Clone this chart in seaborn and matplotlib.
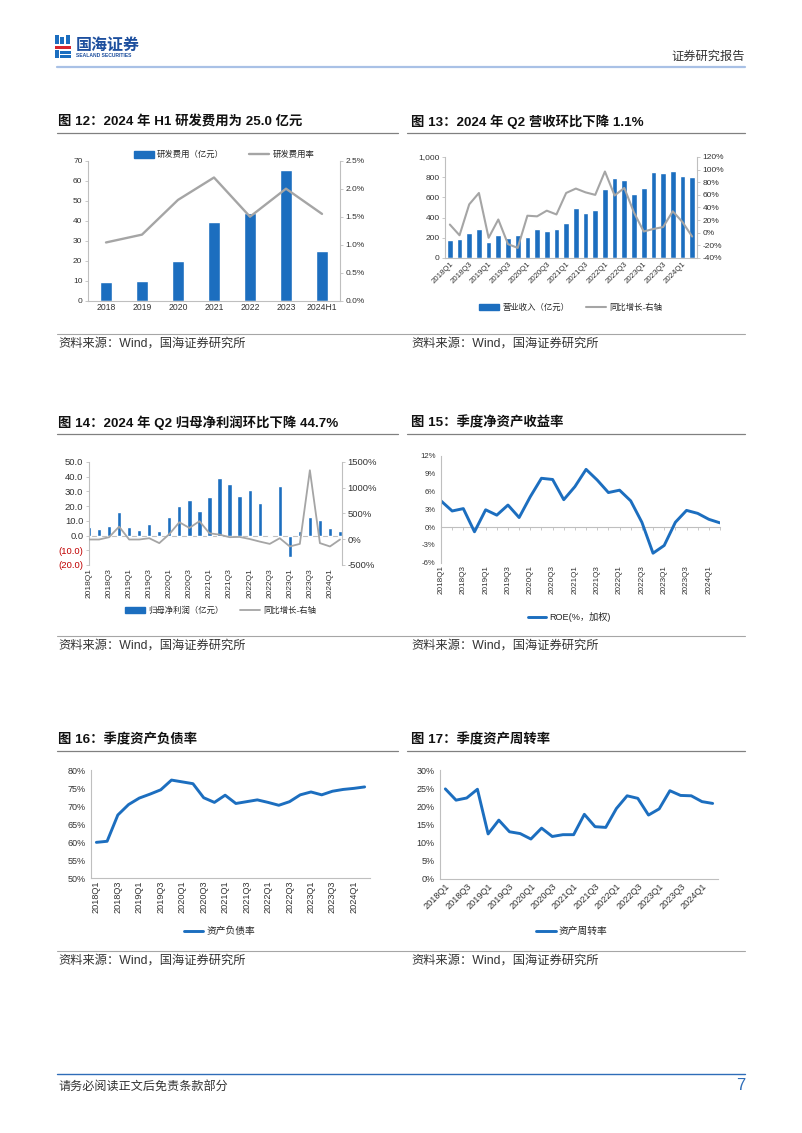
import numpy as np
import pandas as pd
import matplotlib
matplotlib.use("Agg")
import matplotlib.pyplot as plt
import seaborn as sns
from matplotlib.lines import Line2D
from matplotlib.patches import Patch, Rectangle
from matplotlib.ticker import FuncFormatter

sns.set_style("white")
plt.rcParams['font.family'] = ['Liberation Sans', 'Noto Sans CJK SC', 'DejaVu Sans']
plt.rcParams['axes.unicode_minus'] = False

W, H = 802, 1133
BLUE = '#1C6EBF'
GREY = '#A5A5A5'
SPINE = '#BFBFBF'
TXT = '#333333'

# ---- data ----
rd_years = ['2018', '2019', '2020', '2021', '2022', '2023', '2024H1']
rd_expense = [9.5, 10.0, 19.8, 39.2, 43.8, 65.3, 25.0]
rd_rate = [1.04, 1.18, 1.80, 2.20, 1.50, 2.00, 1.55]

quarters = [f"{y}Q{q}" for y in range(2018, 2025) for q in range(1, 5)][:26]

revenue = [175, 185, 245, 290, 160, 225, 195, 225, 205, 285, 270, 290, 345,
           495, 445, 475, 685, 790, 770, 635, 695, 850, 845, 860, 810, 800]
revenue_yoy = [13, -4, 45, 63, -8, 21, -18, -24, 27, 26, 35, 29, 63,
               70, 64, 60, 97, 59, 71, 32, 2, 6, 9, 34, 17, -6]

net_profit = [6.1, 4.5, 6.6, 15.9, 5.9, 4.1, 8.0, 3.4, 12.3, 19.8, 24.3, 16.4, 26.4,
              39.3, 35.2, 26.6, 30.7, 22.3, 0.5, 33.4, -14.8, 3.2, 12.3, 10.5, 5.2, 3.0]
net_yoy = [-5, -5, 40, 245, -5, -5, 20, -75, 100, 330, 220, 350, 115,
           90, 40, 45, 5, -45, -90, 20, -140, -90, 1340, -75, -140, -5]

roe = [4.4, 2.7, 3.1, -0.8, 2.9, 2.0, 3.7, 1.6, 5.1, 8.2, 8.0, 4.6, 6.8,
       9.7, 7.9, 5.8, 6.2, 4.4, 0.8, -4.4, -3.1, 0.8, 2.8, 2.3, 1.3, 0.7]
debt_ratio = [59.9, 60.2, 67.5, 70.4, 72.2, 73.3, 74.5, 77.2, 76.7, 76.2, 72.3, 71.0, 73.0,
              70.7, 71.2, 71.7, 71.0, 70.2, 71.2, 73.1, 73.9, 73.1, 74.1, 74.6, 74.9, 75.3]
turnover = [24.8, 21.7, 22.3, 24.7, 12.4, 16.2, 13.0, 12.5, 11.0, 14.0, 11.7, 12.2, 12.2,
            17.8, 14.4, 14.2, 19.4, 22.9, 22.2, 17.6, 19.3, 24.3, 23.0, 22.9, 21.3, 20.8]

qdf = pd.DataFrame({'idx': np.arange(len(quarters)), 'quarter': quarters,
                    'revenue': revenue, 'revenue_yoy': revenue_yoy,
                    'net_profit': net_profit, 'net_yoy': net_yoy,
                    'roe': roe, 'debt': debt_ratio, 'turnover': turnover})
rdf = pd.DataFrame({'idx': np.arange(len(rd_years)), 'year': rd_years,
                    'expense': rd_expense, 'rate': rd_rate})

fig = plt.figure(figsize=(W / 100, H / 100), dpi=100)


def fx(px):
    return px / W


def fy(py):
    return 1 - py / H


def add_axes(x0, y0, x1, y1):
    return fig.add_axes([fx(x0), fy(y1), (x1 - x0) / W, (y1 - y0) / H])


def hline(y, x0, x1, color, lw):
    fig.add_artist(Line2D([fx(x0), fx(x1)], [fy(y), fy(y)], transform=fig.transFigure,
                          color=color, lw=lw))


def frect(x0, y0, w, h, color):
    fig.add_artist(Rectangle((fx(x0), fy(y0 + h)), w / W, h / H, transform=fig.transFigure,
                             color=color, lw=0))


def style(ax, fs=6, xfs=6):
    for s in ['top', 'right']:
        ax.spines[s].set_visible(False)
    for s in ['left', 'bottom']:
        ax.spines[s].set_color(SPINE)
        ax.spines[s].set_linewidth(0.8)
    ax.tick_params(axis='y', length=2.5, width=0.6, color=SPINE, labelsize=fs,
                   labelcolor=TXT, pad=1.5)
    ax.tick_params(axis='x', length=0, labelsize=xfs, labelcolor=TXT, pad=2)
    ax.set_xlabel('')
    ax.set_ylabel('')
    ax.grid(False)


def style_right(ax2, fs=6):
    for s in ['top', 'left', 'bottom']:
        ax2.spines[s].set_visible(False)
    ax2.spines['right'].set_color(SPINE)
    ax2.spines['right'].set_linewidth(0.8)
    ax2.tick_params(axis='y', length=2.5, width=0.6, color=SPINE, labelsize=fs,
                    labelcolor=TXT, pad=1.5)
    ax2.set_xlabel('')
    ax2.set_ylabel('')
    ax2.grid(False)


pct0 = FuncFormatter(lambda v, p: f"{v:.0f}%")

# ---- header ----
frect(55, 35, 3.5, 9, BLUE)
frect(60, 37, 3.5, 7, BLUE)
frect(66, 35, 4, 9, BLUE)
frect(55, 46, 16, 3, '#D7262E')
frect(55, 50, 3.5, 8, BLUE)
frect(60, 51, 11, 2.5, BLUE)
frect(60, 55, 11, 3, BLUE)
fig.text(fx(76), fy(45), "国海证券", fontsize=11.5, color='#1D4F9E', weight='bold', va='center')
fig.text(fx(76.5), fy(55.5), "SEALAND SECURITIES", fontsize=3.6, color='#1D4F9E', weight='bold',
         va='center')
fig.text(fx(745), fy(57), "证券研究报告", fontsize=8.8, color=TXT, ha='right', va='center')
hline(67, 57, 745, '#A9C1E6', 1.6)

# ---- titles / sources ----
titles = [(58, 122, "图 12：2024 年 H1 研发费用为 25.0 亿元"),
          (411, 122, "图 13：2024 年 Q2 营收环比下降 1.1%"),
          (58, 423, "图 14：2024 年 Q2 归母净利润环比下降 44.7%"),
          (411, 423, "图 15：季度净资产收益率"),
          (58, 740, "图 16：季度资产负债率"),
          (411, 740, "图 17：季度资产周转率")]
for x, y, t in titles:
    fig.text(fx(x), fy(y), t, fontsize=9.6, weight='bold', color='#111111', va='center')
for y in [133, 434, 751]:
    hline(y, 57, 398, '#808080', 0.9)
    hline(y, 407, 745, '#808080', 0.9)
for y in [334, 636, 951]:
    hline(y, 57, 745, '#A6A6A6', 0.8)
    fig.text(fx(58), fy(y + 10), "资料来源：Wind，国海证券研究所", fontsize=8.8, color=TXT, va='center')
    fig.text(fx(411), fy(y + 10), "资料来源：Wind，国海证券研究所", fontsize=8.8, color=TXT, va='center')

hline(1074, 57, 745, '#2F6DB8', 1.0)
fig.text(fx(58), fy(1087), "请务必阅读正文后免责条款部分", fontsize=8.7, color=TXT, va='center')
fig.text(fx(745), fy(1086), "7", fontsize=12, color='#2F6DB8', ha='right', va='center')

# ---- chart 12 ----
ax = add_axes(88, 160.7, 340, 300.7)
sns.barplot(data=rdf, x='idx', y='expense', native_scale=True, color=BLUE, width=0.32,
            errorbar=None, ax=ax, saturation=1)
ax2 = ax.twinx()
sns.lineplot(data=rdf, x='idx', y='rate', color=GREY, lw=1.7, ax=ax2, legend=False)
ax.set_xlim(-0.5, 6.5)
ax.set_ylim(0, 70)
ax.set_yticks(range(0, 71, 10))
ax2.set_ylim(0, 2.5)
ax2.set_yticks(np.arange(0, 2.51, 0.5))
ax2.yaxis.set_major_formatter(FuncFormatter(lambda v, p: f"{v:.1f}%"))
ax.set_xticks(rdf['idx'])
ax.set_xticklabels(rd_years)
style(ax, 6, 6.2)
style_right(ax2, 6)
ax.legend(handles=[Patch(color=BLUE, label='研发费用（亿元）'),
                   Line2D([], [], color=GREY, lw=1.7, label='研发费用率')],
          loc='center', bbox_to_anchor=(0.54, 1.04), ncol=2, frameon=False, fontsize=6,
          handlelength=2.4, handleheight=0.9, columnspacing=3.0, handletextpad=0.4)

# ---- chart 13 ----
ax = add_axes(445, 157, 697, 258)
sns.barplot(data=qdf, x='idx', y='revenue', native_scale=True, color=BLUE, width=0.58,
            errorbar=None, ax=ax, saturation=1)
ax2 = ax.twinx()
sns.lineplot(data=qdf, x='idx', y='revenue_yoy', color=GREY, lw=1.5, ax=ax2, legend=False)
ax.set_xlim(-0.5, 25.5)
ax.set_ylim(0, 1000)
ax.set_yticks(range(0, 1001, 200))
ax.yaxis.set_major_formatter(FuncFormatter(lambda v, p: f"{v:,.0f}"))
ax2.set_ylim(-40, 120)
ax2.set_yticks(range(-40, 121, 20))
ax2.yaxis.set_major_formatter(pct0)
ax.set_xticks(qdf['idx'][::2])
ax.set_xticklabels(quarters[::2], rotation=45, ha='right', rotation_mode='anchor')
style(ax, 6, 5.6)
style_right(ax2, 6)
ax.legend(handles=[Patch(color=BLUE, label='营业收入（亿元）'),
                   Line2D([], [], color=GREY, lw=1.5, label='同比增长-右轴')],
          loc='center', bbox_to_anchor=(0.5, -0.49), ncol=2, frameon=False, fontsize=6,
          handlelength=2.4, handleheight=0.7, columnspacing=2.0, handletextpad=0.4)

# ---- chart 14 ----
ax = add_axes(89, 462, 342, 565)
sns.barplot(data=qdf, x='idx', y='net_profit', native_scale=True, color=BLUE, width=0.42,
            errorbar=None, ax=ax, saturation=1)
ax2 = ax.twinx()
sns.lineplot(data=qdf, x='idx', y='net_yoy', color=GREY, lw=1.3, ax=ax2, legend=False)
ax.set_xlim(0, 25.2)
ax.set_ylim(-20, 50)
yv = list(range(-20, 51, 10))
ax.set_yticks(yv)
ax.set_yticklabels([f"{v:.1f}" if v >= 0 else f"({-v:.1f})" for v in yv])
ax2.set_ylim(-500, 1500)
ax2.set_yticks(range(-500, 1501, 500))
ax2.yaxis.set_major_formatter(pct0)
ax.set_xticks(qdf['idx'][::2])
ax.set_xticklabels(quarters[::2], rotation=90)
style(ax, 6.8, 6)
style_right(ax2, 6.8)
ax.spines['bottom'].set_visible(False)
for lbl, v in zip(ax.get_yticklabels(), yv):
    if v < 0:
        lbl.set_color('#C00000')
sec = ax.secondary_xaxis(20 / 70)
sec.set_xticks([])
sec.spines['bottom'].set_color(SPINE)
sec.spines['bottom'].set_linewidth(0.8)
ax.legend(handles=[Patch(color=BLUE, label='归母净利润（亿元）'),
                   Line2D([], [], color=GREY, lw=1.3, label='同比增长-右轴')],
          loc='center', bbox_to_anchor=(0.52, -0.44), ncol=2, frameon=False, fontsize=6,
          handlelength=2.4, handleheight=0.7, columnspacing=2.0, handletextpad=0.4)


def line_chart(box, col, ylim, step, rot, xlim, fs, xfs, zero_axis=False):
    ax = add_axes(*box)
    sns.lineplot(data=qdf, x='idx', y=col, color=BLUE, lw=2.1, ax=ax, legend=False)
    ax.set_xlim(*xlim)
    ax.set_ylim(*ylim)
    ax.set_yticks(np.arange(ylim[0], ylim[1] + 0.1, step))
    ax.yaxis.set_major_formatter(pct0)
    ax.set_xticks(qdf['idx'][::2])
    if rot == 90:
        ax.set_xticklabels(quarters[::2], rotation=90)
    else:
        ax.set_xticklabels(quarters[::2], rotation=45, ha='right', rotation_mode='anchor')
    style(ax, fs, xfs)
    if zero_axis:
        ax.spines['bottom'].set_visible(False)
        sec = ax.secondary_xaxis((0 - ylim[0]) / (ylim[1] - ylim[0]))
        sec.set_xticks(qdf['idx'])
        sec.set_xticklabels([])
        sec.tick_params(length=2.5, width=0.6, color=SPINE)
        sec.spines['bottom'].set_color(SPINE)
        sec.spines['bottom'].set_linewidth(0.8)
    else:
        ax.set_xticks(qdf['idx'], minor=True)
        ax.tick_params(axis='x', which='minor', length=2.5, width=0.6, color=SPINE)
    return ax


ax = line_chart((441, 455.7, 720, 562.7), 'roe', (-6, 12), 3, 90, (0, 25), 5.6, 5.9,
                zero_axis=True)
ax.legend(handles=[Line2D([], [], color=BLUE, lw=2.1, label='ROE(%，加权)')],
          loc='center', bbox_to_anchor=(0.46, -0.51), frameon=False, fontsize=6.6,
          handlelength=2.0, handletextpad=0.3)

ax = line_chart((91, 770, 370, 878), 'debt', (50, 80), 5, 90, (-0.5, 25.5), 6.5, 6.6)
ax.legend(handles=[Line2D([], [], color=BLUE, lw=2.1, label='资产负债率')],
          loc='center', bbox_to_anchor=(0.46, -0.49), frameon=False, fontsize=7,
          handlelength=2.0, handletextpad=0.3)

ax = line_chart((440, 770, 718, 879), 'turnover', (0, 30), 5, 45, (-0.5, 25.5), 6.5, 6.6)
ax.legend(handles=[Line2D([], [], color=BLUE, lw=2.1, label='资产周转率')],
          loc='center', bbox_to_anchor=(0.475, -0.48), frameon=False, fontsize=7,
          handlelength=2.0, handletextpad=0.3)

fig.savefig("out.png", dpi=100, facecolor='white')
